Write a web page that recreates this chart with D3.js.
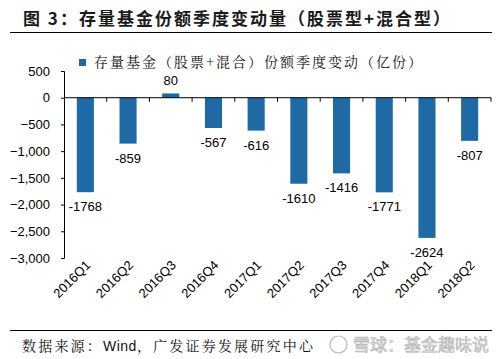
<!DOCTYPE html>
<html>
<head>
<meta charset="utf-8">
<script src="https://cdn.jsdelivr.net/npm/d3@7"></script>
<style>
  body { margin: 0; background: #fff; }
  svg text { font-family: Arial, "Liberation Sans", sans-serif; }
  .cjk { font-family: "Noto Serif CJK SC", "Noto Sans CJK SC", sans-serif; }
  .hei { font-family: "Noto Sans CJK SC", sans-serif; }
</style>
</head>
<body>
<div id="chart"></div>
<script>
var quarters = ["2016Q1","2016Q2","2016Q3","2016Q4","2017Q1","2017Q2","2017Q3","2017Q4","2018Q1","2018Q2"];
var changes = [-1768, -859, 80, -567, -616, -1610, -1416, -1771, -2624, -807];
var yTicks = [500, 0, -500, -1000, -1500, -2000, -2500, -3000];

var width = 502, height = 359;
var margin = {top: 71, left: 64, right: 11, bottom: 101};

var svg = d3.select("#chart").append("svg")
  .attr("width", width)
  .attr("height", height);

// title + rule
svg.append("text")
  .attr("class", "hei")
  .attr("x", 23).attr("y", 25)
  .attr("font-size", 17).attr("font-weight", "bold")
  .attr("letter-spacing", 2)
  .attr("fill", "#1a1a1a")
  .text("图 3：存量基金份额季度变动量（股票型+混合型）");
svg.append("line")
  .attr("x1", 10).attr("x2", 492).attr("y1", 32.5).attr("y2", 32.5)
  .attr("stroke", "#000").attr("stroke-width", 1);

var x = d3.scaleBand()
  .domain(quarters)
  .range([margin.left, width - margin.right])
  .paddingInner(0.6).paddingOuter(0.3);

var y = d3.scaleLinear()
  .domain([500, -3000])
  .range([margin.top, 258]);

// legend
svg.append("rect")
  .attr("x", 79).attr("y", 59).attr("width", 7).attr("height", 7)
  .attr("fill", "#1f69a5");
svg.append("text")
  .attr("class", "cjk")
  .attr("x", 94).attr("y", 67)
  .attr("font-size", 14).attr("fill", "#111")
  .attr("letter-spacing", 2)
  .text("存量基金（股票+混合）份额季度变动（亿份）");

// bars
svg.append("g").selectAll("rect")
  .data(changes)
  .join("rect")
  .attr("x", function(d, i){ return x(quarters[i]); })
  .attr("width", x.bandwidth())
  .attr("y", function(d){ return y(Math.max(0, d)); })
  .attr("height", function(d){ return Math.abs(y(d) - y(0)); })
  .attr("fill", "#1f69a5");

// value labels
svg.append("g").selectAll("text")
  .data(changes)
  .join("text")
  .attr("x", function(d, i){ return x(quarters[i]) + x.bandwidth() / 2; })
  .attr("y", function(d){ return d >= 0 ? y(d) - 8 : y(d) + 19; })
  .attr("text-anchor", "middle")
  .attr("font-size", 13)
  .attr("fill", "#000")
  .text(function(d){ return d; });

// y axis
var yAxis = d3.axisLeft(y)
  .tickValues(yTicks)
  .tickSize(3)
  .tickPadding(11)
  .tickFormat(d3.format(","));
var gy = svg.append("g")
  .attr("transform", "translate(" + margin.left + ",0)")
  .call(yAxis);
gy.select(".domain").attr("stroke", "#000");
gy.selectAll("text").attr("font-size", 13).attr("fill", "#000")
  .attr("font-family", "Arial, 'Liberation Sans', sans-serif");

// x axis at zero
var xPos = d3.scalePoint()
  .domain(d3.range(quarters.length + 1))
  .range([margin.left, width - margin.right]);
var gx = svg.append("g")
  .attr("transform", "translate(0," + y(0) + ")");
gx.append("line")
  .attr("x1", margin.left).attr("x2", width - margin.right)
  .attr("stroke", "#000");
gx.selectAll(".tk")
  .data(xPos.domain().slice(1))
  .join("line")
  .attr("x1", function(d){ return xPos(d); })
  .attr("x2", function(d){ return xPos(d); })
  .attr("y1", 0).attr("y2", 4)
  .attr("stroke", "#000");

// category labels, rotated
svg.append("g").selectAll("text")
  .data(quarters)
  .join("text")
  .attr("transform", function(d){
    return "translate(" + (x(d) + x.bandwidth() / 2 + 6) + ",266) rotate(-45)";
  })
  .attr("text-anchor", "end")
  .attr("font-size", 13)
  .attr("fill", "#000")
  .text(function(d){ return d; });

// bottom rule + source
svg.append("line")
  .attr("x1", 10).attr("x2", 492).attr("y1", 330.5).attr("y2", 330.5)
  .attr("stroke", "#000").attr("stroke-width", 1);
var src = svg.append("text")
  .attr("class", "cjk")
  .attr("x", 22).attr("y", 351)
  .attr("font-size", 14).attr("fill", "#111")
  .attr("letter-spacing", 2.2);
src.append("tspan").text("数据来源：");
src.append("tspan").attr("font-family", "Arial, 'Liberation Sans', sans-serif").attr("letter-spacing", 0.5).text("Wind");
src.append("tspan").text("，广发证券发展研究中心");

// watermark
svg.append("circle")
  .attr("cx", 338.5).attr("cy", 344.5).attr("r", 8.5)
  .attr("fill", "#fff").attr("fill-opacity", 0.7)
  .attr("stroke", "#b8b8b8").attr("stroke-width", 1.2);
svg.append("text")
  .attr("class", "hei")
  .attr("x", 353).attr("y", 351)
  .attr("font-size", 17)
  .attr("fill", "#e4e4e4").attr("stroke", "#b0b0b0").attr("stroke-width", 0.6)
  .text("雪球：基金趣味说");
</script>
</body>
</html>
